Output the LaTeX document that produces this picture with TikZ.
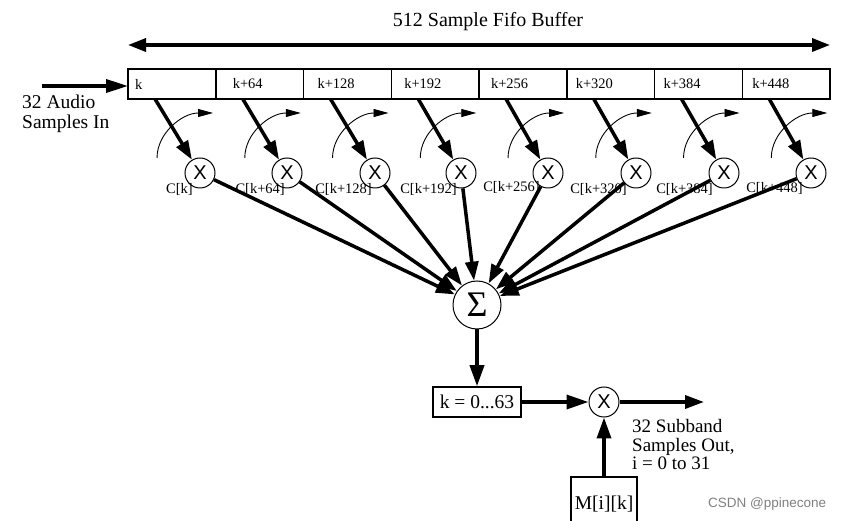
\documentclass[tikz,border=0pt]{standalone}
\usepackage{fontspec}
\setmainfont{Liberation Serif}
\newfontfamily\xfont{Liberation Sans}
\usetikzlibrary{arrows.meta,positioning}

\begin{document}
\begin{tikzpicture}[x=1pt, y=-1pt,
    big/.style={font=\fontsize{19.5}{20}\selectfont},
    small/.style={font=\fontsize{14.5}{16}\selectfont},
    cell/.style={draw, line width=1.5pt, minimum height=30pt, text width=79.75pt, inner xsep=4pt, outer sep=0pt, align=left, small},
    mul/.style={circle, draw, line width=1pt, minimum size=30pt, inner sep=0pt, font=\xfont\fontsize{20}{20}\selectfont},
    coef/.style={anchor=east, inner sep=0pt, small},
    fat/.style={line width=3.5pt, -{Triangle[length=19pt,width=13pt]}},
    turn/.style={line width=0.9pt, -{Triangle[length=15pt,width=8pt]}}]
    \useasboundingbox (0,0) rectangle (847,521);

    \node[font=\fontsize{20}{20}\selectfont] (title) at (488,22) {512 Sample Fifo Buffer};
    \coordinate (bl) at (128,45);
    \coordinate (br) at (830,45);

    \node[cell] (b1) at (171.9,84) {\hspace*{3pt}k};
    \node[cell, right=0pt of b1] (b2) {\hspace*{13pt}k+64};
    \node[cell, right=0pt of b2] (b3) {\hspace*{10pt}k+128};
    \node[cell, right=0pt of b3] (b4) {\hspace*{9pt}k+192};
    \node[cell, right=0pt of b4] (b5) {\hspace*{8pt}k+256};
    \node[cell, right=0pt of b5] (b6) {\hspace*{5pt}k+320};
    \node[cell, right=0pt of b6] (b7) {\hspace*{5pt}k+384};
    \node[cell, right=0pt of b7] (b8) {\hspace*{6pt}k+448};

    \coordinate (in) at (42,86);
    \node[big, align=left, anchor=west, inner sep=0pt] (inlabel) at (22,114) {32 Audio\\Samples In};

    \node[mul] (m1) at (200,173) {X};
    \node[mul] (m2) at (287,173) {X};
    \node[mul] (m3) at (375,173) {X};
    \node[mul] (m4) at (461,173) {X};
    \node[mul] (m5) at (548,173) {X};
    \node[mul] (m6) at (636,173) {X};
    \node[mul] (m7) at (724,173) {X};
    \node[mul] (m8) at (811,173) {X};

    \node[coef] (c1) at (193,189) {C[k]};
    \node[coef] (c2) at (285,189) {C[k+64]};
    \node[coef] (c3) at (372,189) {C[k+128]};
    \node[coef] (c4) at (457,189) {C[k+192]};
    \node[coef] (c5) at (540,187) {C[k+256]};
    \node[coef] (c6) at (627,189) {C[k+320]};
    \node[coef] (c7) at (713,189) {C[k+384]};
    \node[coef] (c8) at (803,188) {C[k+448]};

    \node[circle, draw, line width=1pt, minimum size=48pt, inner sep=0pt, font=\fontsize{36}{36}\selectfont] (sum) at (477,305) {Σ};
    \node[draw, line width=1.5pt, minimum width=88pt, minimum height=30pt, big] (kbox) at (477,402) {k = 0...63};
    \node[mul] (mo) at (604,402) {X};
    \coordinate (out) at (704,402);
    \node[draw, line width=1.5pt, minimum width=66pt, minimum height=54pt, big] (mbox) at (604,504) {M[i][k]};
    \node[font=\fontsize{19}{18.5}\selectfont, align=left, anchor=west, inner sep=0pt] (outlabel) at (632,445) {32 Subband\\Samples Out,\\i = 0 to 31};
    \node[font=\xfont\fontsize{13.5}{14}\selectfont, text=black!50, anchor=west, inner sep=0pt] (mark) at (708,504) {CSDN @ppinecone};

    \draw[line width=3.5pt, {Triangle[length=18pt,width=13pt]}-{Triangle[length=18pt,width=13pt]}] (bl) -- (br);
    \draw[fat, -{Triangle[length=22pt,width=13pt]}] (in) -- (in -| b1.west);

    \draw[fat] ([xshift=27pt]b1.south west) -- (m1);
    \draw[fat] ([xshift=27pt]b2.south west) -- (m2);
    \draw[fat] ([xshift=27pt]b3.south west) -- (m3);
    \draw[fat] ([xshift=27pt]b4.south west) -- (m4);
    \draw[fat] ([xshift=27pt]b5.south west) -- (m5);
    \draw[fat] ([xshift=27pt]b6.south west) -- (m6);
    \draw[fat] ([xshift=27pt]b7.south west) -- (m7);
    \draw[fat] ([xshift=27pt]b8.south west) -- (m8);

    \draw[turn] ([shift={(29,59)}]b1.south west) arc[start angle=180, end angle=90, x radius=56pt, y radius=45pt];
    \draw[turn] ([shift={(29,59)}]b2.south west) arc[start angle=180, end angle=90, x radius=56pt, y radius=45pt];
    \draw[turn] ([shift={(29,59)}]b3.south west) arc[start angle=180, end angle=90, x radius=56pt, y radius=45pt];
    \draw[turn] ([shift={(29,59)}]b4.south west) arc[start angle=180, end angle=90, x radius=56pt, y radius=45pt];
    \draw[turn] ([shift={(29,59)}]b5.south west) arc[start angle=180, end angle=90, x radius=56pt, y radius=45pt];
    \draw[turn] ([shift={(29,59)}]b6.south west) arc[start angle=180, end angle=90, x radius=56pt, y radius=45pt];
    \draw[turn] ([shift={(29,59)}]b7.south west) arc[start angle=180, end angle=90, x radius=56pt, y radius=45pt];
    \draw[turn] ([shift={(29,59)}]b8.south west) arc[start angle=180, end angle=90, x radius=56pt, y radius=45pt];

    \draw[fat] (m1) -- (sum);
    \draw[fat] (m2) -- (sum);
    \draw[fat] (m3) -- (sum);
    \draw[fat] (m4) -- (sum);
    \draw[fat] (m5) -- (sum);
    \draw[fat] (m6) -- (sum);
    \draw[fat] (m7) -- (sum);
    \draw[fat] (m8) -- (sum);

    \draw[fat, -{Triangle[length=21pt,width=14pt]}] (sum) -- (kbox);
    \draw[fat, -{Triangle[length=22pt,width=14pt]}] (kbox) -- (mo);
    \draw[fat] (mo) -- (out);
    \draw[fat, -{Triangle[length=21pt,width=14pt]}] (mbox) -- (mo);
\end{tikzpicture}
\end{document}
